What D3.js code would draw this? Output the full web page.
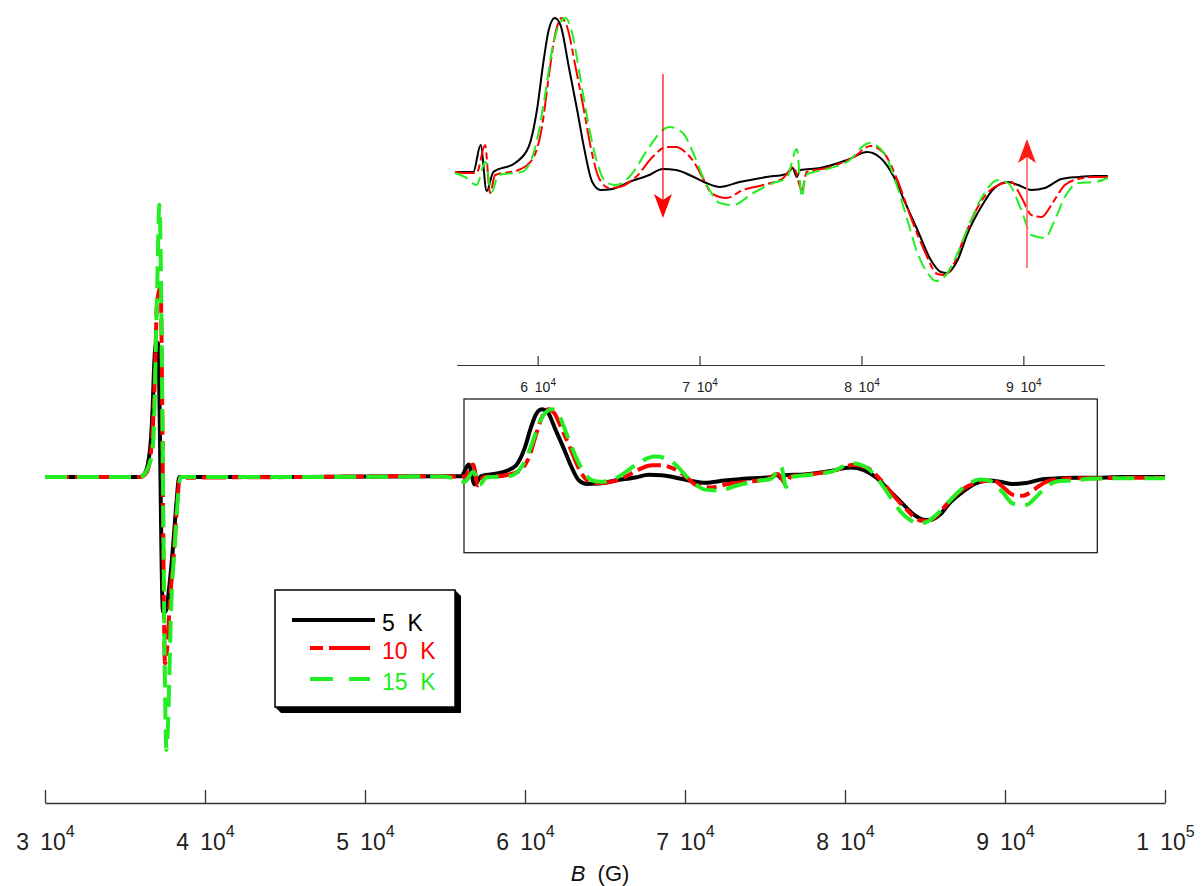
<!DOCTYPE html>
<html>
<head>
<meta charset="utf-8">
<script src="https://cdn.jsdelivr.net/npm/d3@7"></script>
<style>
  html, body { margin: 0; padding: 0; background: #fff; }
  svg { display: block; }
  text { font-family: "Liberation Sans", Arial, sans-serif; }
</style>
</head>
<body>
<svg id="chart" width="1202" height="886"></svg>
<script>
// ---------------- DATA ----------------
// Magnetic field B (G) and EPR signal (arbitrary units)
const spectrum5K = [
  [30000,0],[35000,0],[35940,0],[36250,9],[36560,62],[36730,161],[36830,262],[36940,308],[37060,308],
  [37375,-310],[37530,-310],[37810,-237],[38020,-152],[38230,-53],[38390,0],[46000,0],
  [54890,2],[56025,2],[56478,29],[56851,-17],[57267,2],[58615,11],[59441,27],[59957,64],[60373,114],
  [60683,144],[61056,156],[61410,149],[61925,107],[62441,64],[62857,27],[63373,-8],[63894,-16],
  [64615,-15],[65652,-8],[66894,-1],[67720,5],[68553,4],[69379,-1],[70416,-9],[71242,-13],[72484,-8],
  [74142,-3],[75385,0],[75757,6],[76006,-3],[76211,4],[77453,6],[79111,14],[80354,22],[81180,16],
  [82006,-3],[82627,-26],[83459,-56],[84285,-86],[84906,-98],[85279,-99],[85943,-86],[86564,-59],
  [87391,-33],[88217,-14],[89049,-8],[89670,-11],[90496,-16],[91322,-14],[92359,-5],[93397,-3],
  [94428,-2],[95216,-2],[97500,0],[100000,0]
];
const spectrum10K = [
  [30000,0],[35000,0],[35940,0],[36375,12],[36690,85],[36875,239],[37000,400],[37220,437],
  [37500,-428],[37625,-398],[37810,-283],[38020,-191],[38230,-76],[38440,-2],[46000,0],
  [54890,2],[55509,1],[56230,1],[56752,29],[57062,-19],[57373,-1],[58820,4],[59646,14],[60267,47],
  [60683,97],[61099,141],[61472,156],[61820,147],[62342,107],[62857,64],[63273,27],[63789,-4],
  [64410,-14],[65031,-13],[66068,-3],[67099,17],[67931,27],[68553,27],[69174,21],[69689,11],
  [70205,-4],[70726,-19],[71658,-24],[72689,-16],[73931,-11],[75174,-4],[75795,7],[76316,-16],
  [76627,2],[77869,6],[79521,17],[80558,28],[81385,21],[82217,-6],[83043,-43],[83869,-76],
  [84701,-100],[85111,-101],[85732,-89],[86353,-63],[87185,-33],[88217,-13],[89254,-8],[89875,-23],
  [90496,-41],[91117,-43],[91844,-28],[92564,-11],[93397,-5],[94428,-3],[95216,-3],[97500,-2],[100000,-2]
];
const spectrum15K = [
  [30000,0],[35000,0],[35940,0],[36670,46],[36875,200],[36940,331],[37020,446],[37145,626],
  [37595,-628],[37920,-267],[38125,-152],[38330,-37],[38470,0],[46000,0],
  [54890,1],[55509,-3],[56230,-11],[56770,12],[57162,-18],[57578,-1],[59025,2],[59857,27],
  [60478,81],[60888,124],[61410,152],[61720,156],[62130,141],[62652,94],[63168,47],[63683,11],
  [64205,-8],[64826,-11],[65652,-3],[66894,27],[67720,44],[68136,47],[68963,41],[69583,22],
  [70105,1],[70621,-16],[71242,-29],[72068,-31],[73310,-19],[74552,-9],[75385,-4],[76006,25],
  [76316,-23],[76565,-1],[77869,5],[79111,12],[80496,31],[81385,21],[82217,-13],[82838,-46],
  [83459,-79],[84080,-99],[84596,-107],[85217,-101],[85943,-79],[86769,-46],[87596,-19],
  [88428,-6],[89049,-9],[89875,-36],[90496,-61],[91322,-64],[91943,-46],[92564,-23],[93397,-9],
  [94428,-8],[95216,-4],[97500,-3],[100000,-3]
];
const seriesNames = ["5 K", "10 K", "15 K"];
const mainTicks = [30000, 40000, 50000, 60000, 70000, 80000, 90000, 100000];
const mainTickMantissas = ["3", "4", "5", "6", "7", "8", "9", "1"];
const mainTickExponents = ["4", "4", "4", "4", "4", "4", "4", "5"];
const insetTicks = [60000, 70000, 80000, 90000];
const insetTickMantissas = ["6", "7", "8", "9"];
const insetTickExponents = ["4", "4", "4", "4"];
// trend arrows in the inset: [B, signal from, signal to]
const arrowDown = [67740, 100, -44];
const arrowUp = [90224, -94, 35];

// ---------------- LAYOUT / STYLE ----------------
const svg = d3.select("#chart");
const colors = ["#000000", "#ff0000", "#22ee22"];
const mainDash = [null, "24,6,10,6", "22,10"];
const insetDash = [null, "20,4,7,4", "14,6"];

const xMain = d3.scaleLinear().domain([30000, 100000]).range([45, 1165]);
const yMain = d3.scaleLinear().domain([-1000, 1000]).range([477 + 1000 / 2.3, 477 - 1000 / 2.3]);
const xInset = d3.scaleLinear().domain([55000, 95000]).range([456.7, 1104.3]);
const yInset = d3.scaleLinear().domain([-100, 100]).range([274, 74]);

const allSeries = [spectrum5K, spectrum10K, spectrum15K];

// Zoom box in main plot
svg.append("rect")
  .attr("x", 464).attr("y", 399).attr("width", 1097.3 - 464).attr("height", 552.7 - 399)
  .attr("fill", "none").attr("stroke", "#222").attr("stroke-width", 1.3);

// Main curves
const lineMain = d3.line().x(d => xMain(d[0])).y(d => yMain(d[1])).curve(d3.curveMonotoneX);
allSeries.forEach((s, i) => {
  svg.append("path").datum(s)
    .attr("d", lineMain)
    .attr("fill", "none")
    .attr("stroke", colors[i])
    .attr("stroke-width", 4)
    .attr("stroke-linejoin", "round")
    .attr("stroke-dasharray", mainDash[i]);
});

// Inset curves
const lineInset = d3.line().x(d => xInset(d[0])).y(d => yInset(d[1])).curve(d3.curveMonotoneX);
allSeries.forEach((s, i) => {
  svg.append("path").datum(s.filter(d => d[0] >= 54800 && d[0] <= 95300))
    .attr("d", lineInset)
    .attr("fill", "none")
    .attr("stroke", colors[i])
    .attr("stroke-width", 2)
    .attr("stroke-linejoin", "round")
    .attr("stroke-dasharray", insetDash[i]);
});

// Arrows in inset
function arrow(a, lineColor, headColor, lw) {
  const x = xInset(a[0]), y1 = yInset(a[1]), y2 = yInset(a[2]);
  const dir = y2 > y1 ? 1 : -1;
  const headLen = 24, headW = 9, notch = 6;
  svg.append("line")
    .attr("x1", x).attr("x2", x).attr("y1", y1).attr("y2", y2 - dir * headLen * 0.6)
    .attr("stroke", lineColor).attr("stroke-width", lw);
  svg.append("path")
    .attr("d", `M${x},${y2} L${x - headW},${y2 - dir * headLen} L${x},${y2 - dir * (headLen - notch)} L${x + headW},${y2 - dir * headLen} Z`)
    .attr("fill", headColor);
}
arrow(arrowDown, "#ff0000", "#ff0000", 1.2);
arrow(arrowUp, "#ff7070", "#ff1a1a", 1.8);

// Axis label helper
function styleTicks(g, mantissas, exps, baseY, fs, sfs, rise) {
  g.selectAll(".tick text").each(function(d, i) {
    const t = d3.select(this);
    t.text(null).attr("y", baseY).attr("dy", null)
      .attr("fill", "#222").attr("font-size", fs).attr("text-anchor", "middle");
    t.append("tspan").text(mantissas[i] + "\u00a0\u2009" + "10");
    t.append("tspan").attr("font-size", sfs).attr("dy", -rise).text(exps[i]);
  });
}

// Main axis
const gMain = svg.append("g").attr("transform", "translate(0,803)")
  .call(d3.axisBottom(xMain).tickValues(mainTicks).tickSizeInner(-13).tickSizeOuter(0));
gMain.select(".domain").attr("stroke", "#333").attr("stroke-width", 1.3);
gMain.selectAll(".tick line").attr("stroke", "#333").attr("stroke-width", 1.3);
styleTicks(gMain, mainTickMantissas, mainTickExponents, 47, 23, 16, 13);

// Inset axis
const gInset = svg.append("g").attr("transform", "translate(0,365)")
  .call(d3.axisBottom(xInset).tickValues(insetTicks).tickSizeInner(-9).tickSizeOuter(0));
gInset.select(".domain").attr("stroke", "#333").attr("stroke-width", 1.2);
gInset.selectAll(".tick line").attr("stroke", "#333").attr("stroke-width", 1.2);
styleTicks(gInset, insetTickMantissas, insetTickExponents, 26.7, 14, 10, 6);

// Axis title
const title = svg.append("text").attr("x", 600).attr("y", 881).attr("text-anchor", "middle")
  .attr("font-size", 22).attr("fill", "#111");
title.append("tspan").attr("font-style", "italic").text("B");
title.append("tspan").text("\u00a0\u00a0(G)");

// Legend
const lg = svg.append("g");
lg.append("path")
  .attr("d", "M455,590 L461,596 L461,713 L281,713 L275,707 Z")
  .attr("fill", "#000");
lg.append("rect").attr("x", 275).attr("y", 590).attr("width", 180).attr("height", 117)
  .attr("fill", "#fff").attr("stroke", "#000").attr("stroke-width", 1.5);
const legendRows = [
  { y: 620, x1: 292, x2: 375, dash: null },
  { y: 648, x1: 310, x2: 370, dash: "13,6,60" },
  { y: 679, x1: 310, x2: 370, dash: "23,16,30" }
];
legendRows.forEach((r, i) => {
  lg.append("line").attr("x1", r.x1).attr("x2", r.x2).attr("y1", r.y).attr("y2", r.y)
    .attr("stroke", colors[i]).attr("stroke-width", 4).attr("stroke-dasharray", r.dash);
  lg.append("text").attr("x", 382).attr("y", r.y + 11)
    .attr("font-size", 23).attr("fill", colors[i])
    .text(seriesNames[i].replace(" ", "\u00a0\u00a0"));
});
</script>
</body>
</html>
